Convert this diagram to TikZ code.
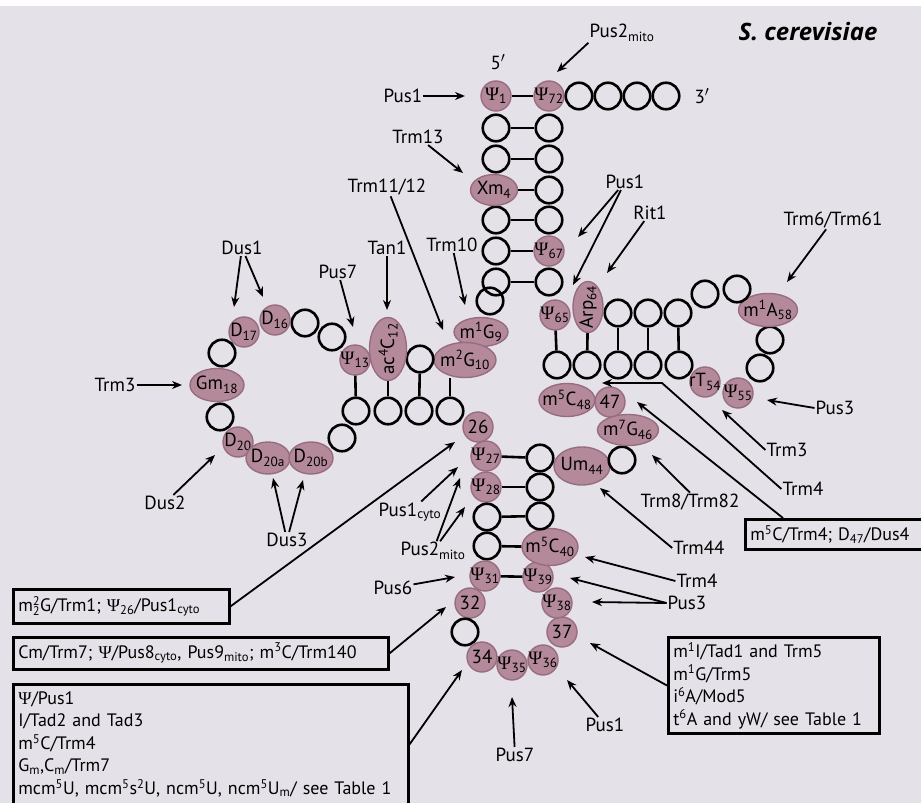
\documentclass[tikz,border=0pt]{standalone}
\usepackage{fontspec}
\setmainfont{PT Sans}
\newfontfamily\grk{Liberation Serif}
\newfontfamily\headfont{Open Sans}
\usetikzlibrary{arrows.meta,shapes.geometric}
\definecolor{paper}{RGB}{229,225,232}
\definecolor{modfill}{RGB}{180,138,155}
\definecolor{modline}{RGB}{152,108,128}
\newcommand\psy{{\grk Ψ}}
\newcommand\ctr[1]{\makebox[0pt]{#1}}
\newcommand\lo[1]{\textsubscript{#1}}
\newcommand\hi[1]{\textsuperscript{#1}}
\newcommand\sm[1]{\hbox{\fontsize{12.5}{13}\selectfont #1}}

\begin{document}
\begin{tikzpicture}[x=1pt, y=-1pt,
    every node/.style={font=\fontsize{19}{22}\selectfont},
    opennt/.style={circle, draw, line width=2.6pt, minimum size=26.5pt, inner sep=0pt},
    modnt/.style={circle, draw=modline, fill=modfill, line width=1.4pt, minimum size=30pt, inner sep=0pt, font=\fontsize{19}{22}\selectfont},
    modell/.style 2 args={ellipse, draw=modline, fill=modfill, line width=1.4pt, minimum width=#1, minimum height=#2, inner sep=0pt, font=\fontsize{19}{22}\selectfont},
    bond/.style={line width=2.6pt},
    enz/.style={-{Stealth[length=10pt,width=8pt]}, line width=1.8pt},
    notebox/.style={draw, line width=2.6pt, anchor=north west, align=left, inner sep=5pt, font=\fontsize{18}{22.5}\selectfont},
    lbl/.style={inner sep=1pt}
  ]
  \fill[white] (0,0) rectangle (921,803);
  \fill[paper] (0,6) rectangle (921,803);
  \useasboundingbox (0,0) rectangle (921,803);

  % acceptor stem
  \node[modnt] (n1) at (496,96) {\ctr{\psy\lo{1}}};
  \node[modnt] (n72) at (549,96) {\ctr{\psy\lo{72}}};
  \foreach \i/\x in {73/579,74/608,75/637,76/666}
    \node[opennt] (n\i) at (\x,96) {};
  \foreach \i/\y in {2/128,3/159,5/220,6/251,7/282}
    \node[opennt] (n\i) at (496,\y) {};
  \foreach \i/\y in {71/128,70/159,69/190,68/220,66/282}
    \node[opennt] (n\i) at (549,\y) {};
  \node[modell={47pt}{31pt}] (n4) at (494,190) {\ctr{Xm\lo{4}}};
  \node[modnt] (n67) at (549,251) {\ctr{\psy\lo{67}}};
  \foreach \i/\j in {1/72,2/71,3/70,4/69,5/68,6/67,7/66}
    \draw[bond] (n\i) -- (n\j);
  \node[lbl] (five) at (498,62) {5$'$};
  \node[lbl] (three) at (702,96) {3$'$};

  % D arm
  \node[opennt] (n8) at (490,301) {};
  \node[modell={54pt}{29pt}] (n9) at (481,332) {\ctr{m\hi{1}G\lo{9}}};
  \node[modell={62pt}{35pt}] (n10) at (465,360) {\ctr{m\hi{2}G\lo{10}}};
  \node[opennt] (n11) at (420,359) {};
  \node[modell={63pt}{37pt}, rotate=90] (n12) at (388,349) {\ctr{ac\hi{4}C\lo{12}}};
  \node[modnt] (n13) at (355,360) {\ctr{\psy\lo{13}}};
  \node[opennt] (n14) at (332,337) {};
  \node[opennt] (n15) at (305,323) {};
  \node[modnt] (n17) at (244,332) {\ctr{D\lo{17}}};
  \node[modnt] (n16) at (275,320) {\ctr{D\lo{16}}};
  \node[opennt] (n17a) at (222,353) {};
  \node[modell={54pt}{33pt}] (n18) at (217,385) {\ctr{Gm\lo{18}}};
  \node[opennt] (n19) at (220,417) {};
  \node[modnt] (n20) at (238,442) {\ctr{D\lo{20}}};
  \node[modell={44pt}{32pt}] (n20a) at (268,458) {\ctr{D\lo{20a}}};
  \node[modell={44pt}{32pt}] (n20b) at (311,458) {\ctr{D\lo{20b}}};
  \node[opennt] (n21) at (342,438) {};
  \foreach \i/\x in {22/356,23/388,24/419,25/450}
    \node[opennt] (n\i) at (\x,411) {};
  \draw[bond] (n13) -- (n22);
  \draw[bond] (n12) -- (n23);
  \draw[bond] (n11) -- (n24);
  \draw[bond] (n25) -- (n25 |- n10.south);

  % anticodon arm
  \node[modnt] (n26) at (478,427) {\ctr{26}};
  \node[modnt] (n27) at (486,456) {\ctr{\psy\lo{27}}};
  \node[modnt] (n28) at (486,487) {\ctr{\psy\lo{28}}};
  \node[opennt] (n29) at (487,517) {};
  \node[opennt] (n30) at (487,546) {};
  \node[modnt] (n31) at (485,576) {\ctr{\psy\lo{31}}};
  \node[modnt] (n32) at (470,603) {\ctr{32}};
  \node[opennt] (n33) at (465,632) {};
  \node[modnt] (n34) at (482,657) {\ctr{34}};
  \node[modnt] (n35) at (512,665) {\ctr{\psy\lo{35}}};
  \node[modnt] (n36) at (543,660) {\ctr{\psy\lo{36}}};
  \node[modnt] (n37) at (562,632) {\ctr{37}};
  \node[modnt] (n38) at (557,603) {\ctr{\psy\lo{38}}};
  \node[modnt] (n39) at (538,577) {\ctr{\psy\lo{39}}};
  \node[modell={56pt}{37pt}] (n40) at (550,547) {\ctr{m\hi{5}C\lo{40}}};
  \foreach \i/\y in {41/516,42/487,43/458}
    \node[opennt] (n\i) at (540,\y) {};
  \foreach \i/\j in {27/43,28/42,29/41,30/40,31/39}
    \draw[bond] (n\i) -- (n\j);

  % variable loop and T arm
  \node[modell={56pt}{38pt}] (n44) at (582,466) {\ctr{Um\lo{44}}};
  \node[opennt] (n45) at (622,460) {};
  \node[modell={56pt}{33pt}] (n48) at (567,400) {\ctr{m\hi{5}C\lo{48}}};
  \node[modnt] (n47) at (610,402) {\ctr{47}};
  \node[modell={61pt}{31pt}] (n46) at (628,430) {\ctr{m\hi{7}G\lo{46}}};
  \foreach \i/\x in {49/557,50/587,51/618,52/648,53/679}
    \node[opennt] (n\i) at (\x,365) {};
  \node[modnt] (n54) at (705,382) {\ctr{rT\lo{54}}};
  \node[modnt] (n55) at (738,393) {\ctr{\psy\lo{55}}};
  \node[opennt] (n56) at (760,368) {};
  \node[opennt] (n57) at (770,340) {};
  \node[modell={59pt}{33pt}] (n58) at (768,310) {\ctr{m\hi{1}A\lo{58}}};
  \node[opennt] (n59) at (737,289) {};
  \node[opennt] (n60) at (705,294) {};
  \foreach \i/\x in {61/678,62/648,63/618}
    \node[opennt] (n\i) at (\x,313) {};
  \node[modell={51pt}{30pt}, rotate=90] (n64) at (588,307) {\ctr{Arp\lo{64}}};
  \node[modnt] (n65) at (555,315) {\ctr{\psy\lo{65}}};
  \foreach \i/\j in {49/65,50/64,51/63,52/62,53/61}
    \draw[bond] (n\i) -- (n\j);

  \node[lbl, font=\headfont\fontsize{24}{28}\selectfont\bfseries\itshape] (species) at (808,32) {S. cerevisiae};

  % enzymes
  \coordinate (tPus1a) at (465,96);
  \coordinate (tPus2a) at (557,72);
  \coordinate (tTrm13) at (463,173);
  \coordinate (tTrm11) at (443,330);
  \coordinate (tTrm10) at (465,305);
  \coordinate (tTan1) at (387,310);
  \coordinate (tPus7a) at (353,327);
  \coordinate (tDus1a) at (234,307);
  \coordinate (tDus1b) at (263,297);
  \coordinate (tTrm3a) at (182,385);
  \coordinate (tDus2) at (215,455);
  \coordinate (tDus3a) at (273,478);
  \coordinate (tDus3b) at (303,480);
  \coordinate (tPus1b) at (578,237);
  \coordinate (tPus1c) at (573,285);
  \coordinate (tRit1) at (607,273);
  \coordinate (tTrm6) at (787,282);
  \coordinate (tPus3a) at (767,400);
  \coordinate (tTrm3b) at (722,410);
  \coordinate (kTrm4a) at (662,383);
  \coordinate (tTrm4a) at (602,383);
  \coordinate (tBox47) at (637,402);
  \coordinate (tTrm8) at (652,455);
  \coordinate (tTrm44) at (600,488);
  \coordinate (tTrm4b) at (585,557);
  \coordinate (tPus3b) at (570,578);
  \coordinate (tPus3c) at (592,602);
  \coordinate (tBoxR) at (590,643);
  \coordinate (tPus1d) at (567,680);
  \coordinate (tPus7b) at (512,697);
  \coordinate (tBox3) at (462,670);
  \coordinate (tBox2) at (446,607);
  \coordinate (tBox1) at (455,442);
  \coordinate (tPus6) at (455,577);
  \coordinate (tPus2b) at (460,478);
  \coordinate (tPus2c) at (465,507);
  \coordinate (tPus1e) at (458,467);

  \node[lbl] (pus1a) at (403,96) {Pus1};
  \node[lbl] (pus2a) at (622,33) {Pus2\lo{mito}};
  \node[lbl] (trm13) at (418,137) {Trm13};
  \node[lbl] (trm11) at (387,187) {Trm11/12};
  \node[lbl] (trm10) at (452,245) {Trm10};
  \node[lbl] (tan1) at (387,248) {Tan1};
  \node[lbl] (pus7a) at (338,272) {Pus7};
  \node[lbl] (dus1) at (242,248) {Dus1};
  \node[lbl] (trm3a) at (115,385) {Trm3};
  \node[lbl] (dus2) at (165,503) {Dus2};
  \node[lbl] (dus3) at (287,540) {Dus3};
  \node[lbl] (pus1b) at (625,182) {Pus1};
  \node[lbl] (rit1) at (650,213) {Rit1};
  \node[lbl] (trm6) at (833,220) {Trm6/Trm61};
  \node[lbl] (pus3a) at (835,408) {Pus3};
  \node[lbl] (trm3b) at (787,450) {Trm3};
  \node[lbl] (trm4a) at (803,489) {Trm4};
  \node[lbl] (trm8) at (690,502) {Trm8/Trm82};
  \node[lbl] (trm44) at (699,548) {Trm44};
  \node[lbl] (trm4b) at (697,581) {Trm4};
  \node[lbl] (pus3b) at (687,603) {Pus3};
  \node[lbl] (pus1d) at (605,725) {Pus1};
  \node[lbl] (pus7b) at (515,755) {Pus7};
  \node[lbl] (pus6) at (393,588) {Pus6};
  \node[lbl] (pus2b) at (433,551) {Pus2\lo{mito}};
  \node[lbl] (pus1e) at (410,512) {Pus1\lo{cyto}};

  \draw[enz] (pus1a) -- (tPus1a);
  \draw[enz] (pus2a.south west) -- (tPus2a);
  \draw[enz] (trm13) -- (tTrm13);
  \draw[enz] (trm11) -- (tTrm11);
  \draw[enz] (trm10) -- (tTrm10);
  \draw[enz] (tan1) -- (tTan1);
  \draw[enz] (pus7a) -- (tPus7a);
  \draw[enz] (dus1) -- (tDus1a);
  \draw[enz] (dus1) -- (tDus1b);
  \draw[enz] (trm3a) -- (tTrm3a);
  \draw[enz] (dus2) -- (tDus2);
  \draw[enz] (dus3) -- (tDus3a);
  \draw[enz] (dus3) -- (tDus3b);
  \draw[enz] (pus1b) -- (tPus1b);
  \draw[enz] (pus1b) -- (tPus1c);
  \draw[enz] (rit1) -- (tRit1);
  \draw[enz] (trm6) -- (tTrm6);
  \draw[enz] (pus3a.west) -- (tPus3a);
  \draw[enz] (trm3b.west) -- (tTrm3b);
  \draw[enz] (trm4a.west) -- (kTrm4a) -- (tTrm4a);
  \draw[enz] (trm8.north) -- (tTrm8);
  \draw[enz] (trm44.west) -- (tTrm44);
  \draw[enz] (trm4b.west) -- (tTrm4b);
  \draw[enz] (pus3b.west) -- (tPus3b);
  \draw[enz] (pus3b.west) -- (tPus3c);
  \draw[enz] (pus1d) -- (tPus1d);
  \draw[enz] (pus7b) -- (tPus7b);
  \draw[enz] (pus6) -- (tPus6);
  \draw[enz] (pus2b) -- (tPus2b);
  \draw[enz] (pus2b) -- (tPus2c);
  \draw[enz] (pus1e) -- (tPus1e);

  % boxes
  \node[notebox, text width=206pt, minimum height=34pt] (bx1) at (12,588)
    {m$^{\sm{2}}_{\sm{2}}$G/Trm1; \psy\lo{26}/Pus1\lo{cyto}};
  \node[notebox, text width=365pt, minimum height=32pt] (bx2) at (12,636)
    {Cm/Trm7; \psy/Pus8\lo{cyto}, Pus9\lo{mito}; m\hi{3}C/Trm140};
  \node[notebox, text width=385pt, minimum height=120pt] (bx3) at (12,683)
    {\psy/Pus1\\I/Tad2 and Tad3\\m\hi{5}C/Trm4\\G\lo{m},C\lo{m}/Trm7\\mcm\hi{5}U, mcm\hi{5}s\hi{2}U, ncm\hi{5}U, ncm\hi{5}U\lo{m}/ see Table 1};
  \node[notebox, text width=201pt, minimum height=96pt] (bxR) at (667,636)
    {m\hi{1}I/Tad1 and Trm5\\m\hi{1}G/Trm5\\i\hi{6}A/Mod5\\t\hi{6}A and yW/ see Table 1};
  \node[notebox, text width=180pt, minimum height=30pt] (bx47) at (744,518)
    {m\hi{5}C/Trm4; D\lo{47}/Dus4};
  \draw[enz] (bx1.east) -- (tBox1);
  \draw[enz] (bx2.east) -- (tBox2);
  \draw[enz] (bx3.east) -- (tBox3);
  \draw[enz] (bxR.west) -- (tBoxR);
  \draw[enz] ([xshift=39pt]bx47.north west) -- (tBox47);
\end{tikzpicture}
\end{document}
